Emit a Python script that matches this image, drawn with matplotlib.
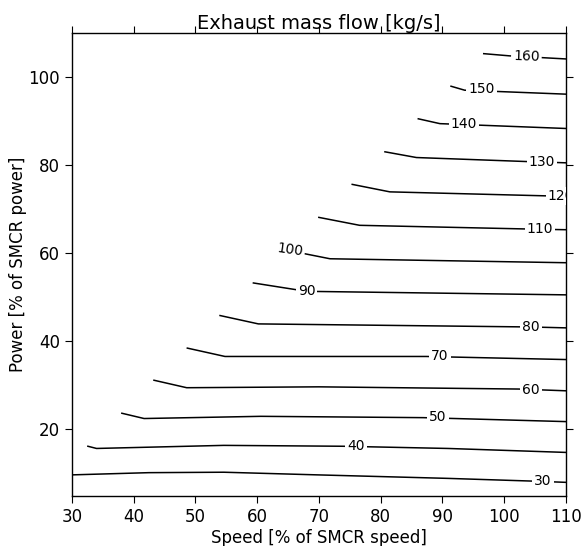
import matplotlib
matplotlib.use('Agg')
import matplotlib.pyplot as plt

# contour levels of exhaust mass flow [kg/s]
levels = [30, 40, 50, 60, 70, 80, 90, 100, 110, 120, 130, 140, 150, 160]

# polyline of each contour: speed [% SMCR] and power [% SMCR]
speed = {
    30: [30.1, 42.5, 54.6, 69.7, 90.9, 104.2, 110.0],
    40: [32.6, 34.0, 54.6, 73.9, 90.9, 110.0],
    50: [38.1, 41.7, 60.6, 86.9, 110.0],
    60: [43.3, 48.6, 70.0, 102.3, 110.0],
    70: [48.7, 54.8, 87.4, 110.0],
    80: [54.0, 60.2, 104.3, 110.0],
    90: [59.4, 68.0, 110.0],
    100: [63.6, 67.5, 71.8, 110.0],
    110: [70.0, 76.6, 105.8, 110.0],
    120: [75.4, 81.5, 106.6, 110.0],
    130: [80.7, 85.8, 103.4, 110.0],
    140: [86.1, 89.6, 110.0],
    150: [91.4, 93.6, 110.0],
    160: [96.7, 100.9, 110.0],
}
power = {
    30: [9.6, 10.1, 10.2, 9.6, 8.8, 8.2, 7.9],
    40: [16.1, 15.6, 16.3, 16.1, 15.6, 14.7],
    50: [23.6, 22.4, 22.9, 22.6, 21.7],
    60: [31.1, 29.4, 29.6, 29.1, 28.7],
    70: [38.4, 36.5, 36.5, 35.8],
    80: [45.8, 43.9, 43.2, 43.0],
    90: [53.2, 51.3, 50.5],
    100: [61.3, 59.9, 58.7, 57.8],
    110: [68.1, 66.3, 65.4, 65.3],
    120: [75.6, 73.9, 73.0, 72.9],
    130: [83.0, 81.7, 80.8, 80.5],
    140: [90.5, 89.4, 88.3],
    150: [97.9, 97.0, 96.1],
    160: [105.3, 104.8, 104.1],
}

# where the inline label of each contour sits
label_x = [106.3, 76.0, 89.3, 104.3, 89.6, 104.3, 68.0, 65.3, 105.8, 109.2, 106.1, 93.5, 96.3, 103.6]
label_y = [8.2, 16.1, 22.7, 28.9, 36.5, 43.2, 51.4, 60.8, 65.4, 73.0, 80.7, 89.3, 97.2, 104.6]
label_rot = [0, 0, 0, 0, 0, 0, 0, -8, 0, 0, 0, 0, 0, -2]

fig = plt.figure(figsize=(5.84, 5.46), dpi=100)
ax = fig.add_axes([0.123, 0.0916, 0.846, 0.848])

for i, lev in enumerate(levels):
    ax.plot(speed[lev], power[lev], color='black', linewidth=1.1, zorder=2)
    ax.text(label_x[i], label_y[i], str(lev), fontsize=10, ha='center', va='center',
            rotation=label_rot[i], rotation_mode='anchor', zorder=3, clip_on=True,
            bbox=dict(facecolor='white', edgecolor='none', pad=1.5))

ax.set_xlim(30, 110)
ax.set_ylim(4.8, 110)
ax.set_xticks([30, 40, 50, 60, 70, 80, 90, 100, 110])
ax.set_yticks([20, 40, 60, 80, 100])

ax.tick_params(direction='out', length=5, width=0.8, labelsize=12,
               top=True, right=True, labeltop=False, labelright=False)
for sp in ax.spines.values():
    sp.set_linewidth(1.0)

ax.set_title('Exhaust mass flow [kg/s]', fontsize=14, pad=3)
ax.set_xlabel('Speed [% of SMCR speed]', fontsize=12, labelpad=2)
ax.set_ylabel('Power [% of SMCR power]', fontsize=12, labelpad=1)

plt.savefig('out.png', dpi=100)
plt.close()
